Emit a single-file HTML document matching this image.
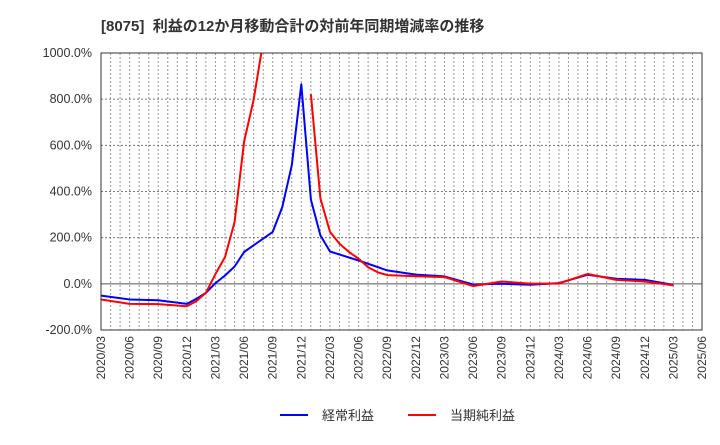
<!DOCTYPE html>
<html><head><meta charset="utf-8"><style>
body{margin:0;background:#fff;font-family:"Liberation Sans","Noto Sans CJK JP",sans-serif;}
</style></head><body>
<svg width="720" height="440" xmlns="http://www.w3.org/2000/svg">
<text x="101" y="31" font-size="15" font-weight="bold" fill="#333" style="white-space:pre" xml:space="preserve">[8075]  利益の12か月移動合計の対前年同期増減率の推移</text>
<g id="grid"></g>
<g id="axes"></g>
<clipPath id="pc"><rect x="101" y="53" width="601" height="277"/></clipPath>
<g id="series" clip-path="url(#pc)"></g>
<rect x="101" y="53" width="601" height="277" fill="none" stroke="#333" stroke-width="1"/>
<g>
<line x1="280" y1="415" x2="308" y2="415" stroke="#0000ff" stroke-width="2"/>
<text x="322" y="420" font-size="13" fill="#333">経常利益</text>
<line x1="408" y1="415" x2="436" y2="415" stroke="#ff0000" stroke-width="2"/>
<text x="450" y="420" font-size="13" fill="#333">当期純利益</text>
</g>
</svg>
<script>
const yTicks=[-200,0,200,400,600,800,1000];
const xTickLabels=["2020/03","2020/06","2020/09","2020/12","2021/03","2021/06","2021/09","2021/12","2022/03","2022/06","2022/09","2022/12","2023/03","2023/06","2023/09","2023/12","2024/03","2024/06","2024/09","2024/12","2025/03","2025/06"];
const blueDates=["2020/03","2020/06","2020/09","2020/12","2021/01","2021/02","2021/03","2021/04","2021/05","2021/06","2021/09","2021/10","2021/11","2021/12","2022/01","2022/02","2022/03","2022/06","2022/09","2022/12","2023/03","2023/06","2023/09","2023/12","2024/03","2024/06","2024/09","2024/12","2025/03"];
const blueValues=[-51,-68,-71,-87,-65,-39,3,36,75,138,225,333,514,865,365,210,140,101,58,40,32,-3,0,-4,3,39,22,17,-4];
const redDates=["2020/03","2020/06","2020/09","2020/12","2021/01","2021/02","2021/03","2021/04","2021/05","2021/06","2021/07","2021/08","2021/09","2022/01","2022/02","2022/03","2022/04","2022/05","2022/06","2022/07","2022/08","2022/09","2022/12","2023/03","2023/06","2023/09","2023/12","2024/03","2024/06","2024/09","2024/12","2025/03"];
const redValues=[-68,-87,-88,-97,-75,-39,43,116,268,616,797,1050,null,822,370,225,174,138,109,72,50,38,33,29,-10,10,1,1,43,17,10,-7];
const NS="http://www.w3.org/2000/svg";
const X0=101,X1=702,Y0=330,Y1=53,NM=63;
function mi(d){const [y,m]=d.split("/").map(Number);return (y-2020)*12+(m-3);}
function xs(d){return X0+mi(d)*(X1-X0)/NM;}
function ys(v){return Y0-(v+200)*(Y0-Y1)/1200;}
function mk(t,a,p){const e=document.createElementNS(NS,t);for(const k in a)e.setAttribute(k,a[k]);p.appendChild(e);return e;}
const grid=document.getElementById("grid"),axes=document.getElementById("axes"),ser=document.getElementById("series");
for(let m=1;m<NM;m++){const x=X0+m*(X1-X0)/NM;
const l=mk("line",{x1:x,x2:x,y1:Y1,y2:Y0,stroke:"#999","stroke-dasharray":"2,2","stroke-width":1},grid);

}
yTicks.forEach(v=>{const y=ys(v);
const l=mk("line",{x1:X0,x2:X1,y1:y,y2:y,stroke:v===0?"#555":"#777","stroke-dasharray":v===0?"":"2,2","stroke-width":1},grid);


const t=mk("text",{x:92,y:y+4,"text-anchor":"end","font-size":12.5,fill:"#333"},axes);
t.textContent=v.toFixed(1)+"%";

});
xTickLabels.forEach(d=>{const x=xs(d);
const t=mk("text",{x:0,y:0,"text-anchor":"end","font-size":12,fill:"#333",transform:`translate(${x+4},336) rotate(-90)`},axes);
t.textContent=d;

});
function draw(dates,vals,col,name){let segs=[],cur=[];
dates.forEach((d,i)=>{if(vals[i]===null){if(cur.length)segs.push(cur);cur=[];}else cur.push(xs(d).toFixed(1)+","+ys(vals[i]).toFixed(1));});
if(cur.length)segs.push(cur);
segs.forEach(s=>{const p=mk("polyline",{points:s.join(" "),fill:"none",stroke:col,"stroke-width":2,"stroke-linejoin":"round"},ser);

});}
draw(blueDates,blueValues,"#0000ff","keijo-line");
draw(redDates,redValues,"#ff0000","junri-line");
</script>
</body></html>
